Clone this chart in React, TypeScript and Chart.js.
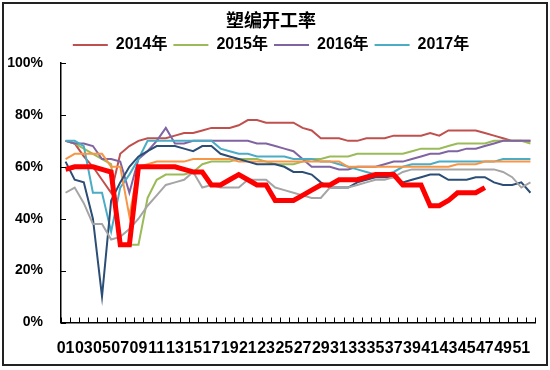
import React, { useEffect, useRef } from "react";
import { Chart, registerables } from "chart.js";

Chart.register(...registerables);

const weekLabels = [
  "01", "02", "03", "04", "05", "06", "07", "08", "09", "10",
  "11", "12", "13", "14", "15", "16", "17", "18", "19", "20",
  "21", "22", "23", "24", "25", "26", "27", "28", "29", "30",
  "31", "32", "33", "34", "35", "36", "37", "38", "39", "40",
  "41", "42", "43", "44", "45", "46", "47", "48", "49", "50",
  "51", "52",
];

const yTicks = [0, 20, 40, 60, 80, 100];

const s2014 = [
  70, 69, 64, 60, 55, 50, 65, 68, 70, 71,
  71, 71, 72, 73, 73, 74, 75, 75, 75, 76,
  78, 78, 77, 77, 77, 77, 75, 74, 71, 71,
  71, 70, 70, 71, 71, 71, 72, 72, 72, 72,
  73, 72, 74, 74, 74, 74, 73, 72, 71, 70, 70, 70,
];
const s2015 = [
  70, 69, 67, 65, 63, 61, 30, 30, 30, 48,
  55, 57, 57, 57, 58, 61, 62, 62, 62, 63,
  63, 63, 62, 61, 61, 61, 62, 63, 63, 64,
  64, 64, 65, 65, 65, 65, 65, 65, 66, 67,
  67, 67, 68, 69, 69, 69, 69, 70, 70, 70, 70, 69,
];
const s2016 = [
  70, 69, 69, 68, 63, 63, 62, 50, 63, 66,
  70, 75, 69, 69, 70, 70, 70, 70, 70, 70,
  70, 69, 69, 68, 67, 66, 63, 60, 60, 60,
  59, 59, 60, 60, 60, 61, 62, 62, 63, 64,
  65, 65, 66, 66, 67, 67, 68, 69, 70, 70, 70, 70,
];
const s2017 = [
  70, 70, 68, 50, 50, 35, 52, 57, 63, 70,
  70, 70, 70, 70, 70, 70, 70, 67, 66, 65,
  65, 64, 64, 64, 64, 63, 63, 63, 62, 62,
  61, 60, 59, 58, 57, 57, 58, 60, 61, 61,
  61, 62, 62, 62, 62, 62, 62, 62, 63, 63, 63, 63,
];
const s2018 = [
  63, 65, 65, 65, 65, 60, 60, 41, 60, 61,
  62, 62, 62, 62, 63, 63, 63, 63, 63, 62,
  62, 62, 62, 62, 62, 62, 62, 62, 62, 62,
  62, 60, 60, 60, 60, 60, 60, 60, 60, 60,
  60, 60, 60, 61, 61, 61, 62, 62, 62, 62, 62, 62,
];
const s2019 = [
  62, 55, 54, 40, 10, 47, 54, 60, 64, 66,
  68, 68, 68, 67, 66, 68, 68, 65, 64, 63,
  62, 61, 61, 61, 60, 58, 58, 57, 54, 52,
  52, 52, 54, 55, 56, 56, 56, 54, 55, 56,
  57, 57, 55, 55, 55, 56, 56, 54, 53, 53, 54, 50,
];
const s2020 = [
  50, 52, 46, 38, 38, 32, 33, 36, 40, 45,
  49, 53, 54, 55, 58, 52, 53, 52, 52, 52,
  55, 55, 55, 52, 51, 50, 49, 48, 48, 52,
  52, 52, 53, 54, 55, 55, 56, 58, 59, 59,
  59, 59, 59, 59, 59, 59, 59, 59, 58, 56, 52, 54,
];
const s2021 = [
  59, 60, 60, 60, 59, 58, 30, 30, 60, 60,
  60, 60, 60, 59, 58, 58, 53, 53, 55, 57,
  55, 53, 53, 47, 47, 47, 49, 51, 53, 53,
  55, 55, 55, 56, 57, 57, 57, 53, 53, 53,
  45, 45, 47, 50, 50, 50, 52, null, null, null, null, null,
];

const seriesNames = ["2014年", "2015年", "2016年", "2017年", "2018年", "2019年", "2020年", "2021年"];
const seriesData = [s2014, s2015, s2016, s2017, s2018, s2019, s2020, s2021];
const seriesColors = ["#C0504D", "#9BBB59", "#8064A2", "#4BACC6", "#F79646", "#2C4D75", "#A5A5A5", "#FF0000"];
const seriesWidths = [2, 2, 2, 2, 2, 2, 2, 5];
const legendCount = 4;

const FONT = "'Liberation Sans', 'Noto Sans CJK SC', sans-serif";

const framePlugin = {
  id: "frame",
  afterDraw(chart: any) {
    const { ctx } = chart;
    const xs = chart.scales.x;
    const ys = chart.scales.y;
    ctx.save();
    ctx.strokeStyle = "#000";
    ctx.lineWidth = 1;
    const n = weekLabels.length;
    const bottom = ys.bottom;
    for (let i = 0; i <= n; i++) {
      let px;
      if (i === 0) px = xs.left;
      else if (i === n) px = xs.right;
      else px = (xs.getPixelForValue(i - 1) + xs.getPixelForValue(i)) / 2;
      px = Math.round(px) + 0.5;
      ctx.beginPath();
      ctx.moveTo(px, bottom);
      ctx.lineTo(px, bottom - 5);
      ctx.stroke();
    }
    for (const v of yTicks) {
      const py = Math.round(ys.getPixelForValue(v)) + 0.5;
      ctx.beginPath();
      ctx.moveTo(xs.left, py);
      ctx.lineTo(xs.left + 5, py);
      ctx.stroke();
    }
    ctx.lineWidth = 2;
    ctx.strokeStyle = "#222";
    ctx.strokeRect(3, 3, 544, 362);
    ctx.restore();
  },
};

export default function App() {
  const ref = useRef<HTMLCanvasElement | null>(null);
  useEffect(() => {
    if (!ref.current) return;
    Chart.defaults.color = "#000";
    const chart = new Chart(ref.current, {
      type: "line",
      data: {
        labels: weekLabels,
        datasets: seriesNames.map((name, i) => ({
          label: name,
          data: seriesData[i],
          borderColor: seriesColors[i],
          backgroundColor: seriesColors[i],
          borderWidth: seriesWidths[i],
          pointRadius: 0,
          pointHoverRadius: 0,
          tension: 0,
          fill: false,
          order: seriesNames.length - i,
        })),
      },
      options: {
        responsive: false,
        animation: false,
        layout: { padding: { top: 0, left: 7, right: 15, bottom: 12 } },
        plugins: {
          title: {
            display: true,
            text: "塑编开工率",
            color: "#000",
            font: { family: FONT, size: 18, weight: "bold", lineHeight: 1 },
            padding: { top: 13, bottom: 0 },
          },
          legend: {
            display: true,
            position: "top",
            labels: {
              color: "#000",
              font: { family: FONT, size: 16, weight: "bold" },
              usePointStyle: true,
              pointStyle: "line",
              pointStyleWidth: 35,
              padding: 6,
              filter: (item: any) => item.datasetIndex < legendCount,
              sort: (a: any, b: any) => a.datasetIndex - b.datasetIndex,
            },
          },
          tooltip: { enabled: false },
        },
        scales: {
          x: {
            type: "category",
            offset: true,
            grid: { display: true, drawOnChartArea: false, drawTicks: false },
            border: { display: true, color: "#000", width: 1.5 },
            afterFit: (s: any) => {
              s.height = 35.5;
              s.paddingLeft = 0;
              s.paddingRight = 0;
            },
            ticks: {
              autoSkip: false,
              maxRotation: 0,
              minRotation: 0,
              padding: 16,
              color: "#000",
              font: { family: FONT, size: 16, weight: "bold" },
              callback: (_v: any, idx: number) => (idx % 2 === 0 ? weekLabels[idx] : ""),
            },
          },
          y: {
            min: 0,
            max: 100,
            grid: { display: true, drawOnChartArea: false, drawTicks: false },
            border: { display: true, color: "#000", width: 1.5 },
            afterFit: (s: any) => {
              s.width = 54;
              s.paddingTop = 0;
              s.paddingBottom = 0;
            },
            ticks: {
              stepSize: 20,
              padding: 18,
              color: "#000",
              font: { family: FONT, size: 14, weight: "bold" },
              callback: (v: any) => v + "%",
            },
          },
        },
      },
      plugins: [framePlugin],
    });
    return () => chart.destroy();
  }, []);
  return (
    <div style={{ position: "absolute", left: 0, top: 0, width: 550, height: 370, background: "#fff" }}>
      <canvas ref={ref} width={550} height={370} />
    </div>
  );
}
